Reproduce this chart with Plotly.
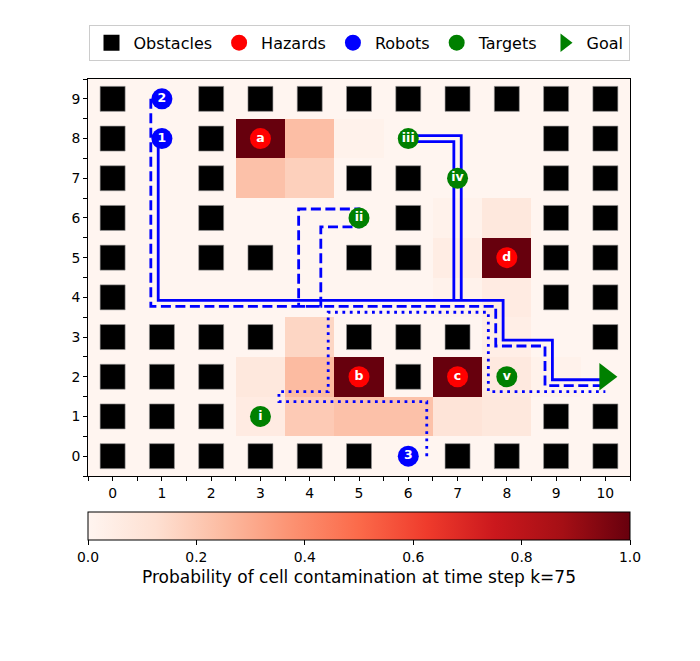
import plotly.graph_objects as go

# ---------------- data ----------------
n_cols = 11
n_rows = 10

# contamination probability per cell, rows listed from y=0 (bottom) to y=9 (top)
prob = [
    [0, 0, 0, 0, 0, 0, 0, 0, 0, 0, 0],                     # y=0
    [0, 0, 0, 0.06, 0.20, 0.23, 0.23, 0.10, 0.08, 0, 0],    # y=1
    [0, 0, 0, 0.08, 0.25, 1.0, 0, 1.0, 0.07, 0.02, 0],      # y=2
    [0, 0, 0, 0, 0.16, 0, 0, 0, 0.04, 0, 0],                # y=3
    [0, 0, 0, 0, 0, 0, 0, 0.02, 0.06, 0, 0],                # y=4
    [0, 0, 0, 0, 0, 0, 0, 0.05, 1.0, 0, 0],                 # y=5
    [0, 0, 0, 0, 0, 0, 0, 0.02, 0.08, 0, 0],                # y=6
    [0, 0, 0, 0.23, 0.18, 0, 0, 0, 0, 0, 0],                # y=7
    [0, 0, 0, 1.0, 0.24, 0.02, 0, 0, 0, 0, 0],              # y=8
    [0, 0, 0, 0, 0, 0, 0, 0, 0, 0, 0],                      # y=9
]

obstacle_x = [0, 2, 3, 4, 5, 6, 7, 8, 9, 10,
              0, 2, 9, 10,
              0, 2, 5, 6, 9, 10,
              0, 2, 6, 9, 10,
              0, 2, 3, 5, 6, 9, 10,
              0, 9, 10,
              0, 1, 2, 3, 5, 6, 7, 10,
              0, 1, 2, 6,
              0, 1, 2, 9, 10,
              0, 1, 2, 3, 4, 5, 7, 8, 9, 10]
obstacle_y = [9] * 10 + [8] * 4 + [7] * 6 + [6] * 5 + [5] * 7 + [4] * 3 + [3] * 8 + [2] * 4 + [1] * 5 + [0] * 10

hazard_x = [3, 5, 7, 8]
hazard_y = [8, 2, 2, 5]
hazard_lbl = ["a", "b", "c", "d"]

robot_x = [1, 1, 6]
robot_y = [8, 9, 0]
robot_lbl = ["1", "2", "3"]

target_x = [3, 5, 6, 7, 8]
target_y = [1, 6, 8, 7, 2]
target_lbl = ["i", "ii", "iii", "iv", "v"]

goal_x = [10]
goal_y = [2]

# robot paths as grid waypoints (turn points)
path1 = [(1, 8), (1, 4), (7, 4), (7, 8), (6, 8), (7, 8), (7, 4), (8, 4), (8, 3), (9, 3), (9, 2), (10, 2)]
path2 = [(1, 9), (1, 4), (4, 4), (4, 6), (5, 6), (4, 6), (4, 4), (8, 4), (8, 3), (9, 3), (9, 2), (10, 2)]
path3 = [(6, 0), (6, 1), (3, 1), (3, 2), (4, 2), (4, 4), (8, 4), (8, 2), (10, 2)]
paths = [path1, path2, path3]
path_offsets = [0.075, 0.225, 0.375]
path_dash = ["solid", "10px,4.5px", "2.8px,4.6px"]

cbar_ticks = [0.0, 0.2, 0.4, 0.6, 0.8, 1.0]

# ---------------- helpers ----------------
reds = [
    [0.0, "#fff5f0"], [0.125, "#fee0d2"], [0.25, "#fcbba1"], [0.375, "#fc9272"],
    [0.5, "#fb6a4a"], [0.625, "#ef3b2c"], [0.75, "#cb181d"], [0.875, "#a50f15"],
    [1.0, "#67000d"],
]


def offset_path(pts, o):
    def norm(a, b):
        dx, dy = b[0] - a[0], b[1] - a[1]
        L = (dx * dx + dy * dy) ** 0.5
        dx, dy = dx / L, dy / L
        return (dy, -dx)

    normals = [norm(pts[i], pts[i + 1]) for i in range(len(pts) - 1)]
    xs, ys = [], []
    n0 = normals[0]
    xs.append(pts[0][0] + o * n0[0]); ys.append(pts[0][1] + o * n0[1])
    for i in range(1, len(pts) - 1):
        a, b = normals[i - 1], normals[i]
        p = pts[i]
        if abs(a[0] + b[0]) < 1e-9 and abs(a[1] + b[1]) < 1e-9:
            xs.append(p[0] + o * a[0]); ys.append(p[1] + o * a[1])
            xs.append(p[0] + o * b[0]); ys.append(p[1] + o * b[1])
        elif a == b:
            xs.append(p[0] + o * a[0]); ys.append(p[1] + o * a[1])
        else:
            xs.append(p[0] + o * (a[0] + b[0])); ys.append(p[1] + o * (a[1] + b[1]))
    nl = normals[-1]
    xs.append(pts[-1][0] + o * nl[0]); ys.append(pts[-1][1] + o * nl[1])
    return xs, ys


FONT = "DejaVu Sans"
fig = go.Figure()

fig.add_trace(go.Heatmap(
    z=prob, x=list(range(n_cols)), y=list(range(n_rows)),
    colorscale=reds, zmin=0, zmax=1, hoverinfo="skip",
    colorbar=dict(
        orientation="h", x=0.5, xanchor="center", y=-0.0907, yanchor="top",
        len=1, lenmode="fraction", thickness=28, xpad=0, ypad=0,
        outlinewidth=1, outlinecolor="black",
        tickvals=cbar_ticks, ticktext=[f"{v:.1f}" for v in cbar_ticks],
        ticks="outside", ticklen=5, tickcolor="black",
        tickfont=dict(size=13.9, color="black", family=FONT),
        title=dict(text="Probability of cell contamination at time step k=75",
                   side="bottom", font=dict(size=17, color="black", family=FONT)),
    ),
    showlegend=False,
))

fig.add_trace(go.Scatter(
    x=obstacle_x, y=obstacle_y, mode="markers",
    marker=dict(symbol="square", size=25, color="black",
                line=dict(color="rgba(150,150,150,0.6)", width=1)),
    showlegend=False, hoverinfo="skip",
))

for pts, o, d in zip(paths, path_offsets, path_dash):
    xs, ys = offset_path(pts, o)
    fig.add_trace(go.Scatter(
        x=xs, y=ys, mode="lines",
        line=dict(color="blue", width=2.8, dash=d),
        showlegend=False, hoverinfo="skip",
    ))

txtfont = dict(color="white", size=12.5, family=FONT, weight="bold")
for xs, ys, lbls, col in [(hazard_x, hazard_y, hazard_lbl, "red"),
                          (robot_x, robot_y, robot_lbl, "blue"),
                          (target_x, target_y, target_lbl, "green")]:
    fig.add_trace(go.Scatter(
        x=xs, y=ys, mode="markers+text", text=lbls, textposition="middle center",
        textfont=txtfont,
        marker=dict(symbol="circle", size=21, color=col),
        showlegend=False, hoverinfo="skip",
    ))

fig.add_trace(go.Scatter(
    x=goal_x, y=goal_y, mode="markers",
    marker=dict(symbol="triangle-right", size=24, color="green"),
    showlegend=False, hoverinfo="skip",
))

# legend-only entries
for name, sym, col in [("Obstacles", "square", "black"), ("Hazards", "circle", "red"),
                       ("Robots", "circle", "blue"), ("Targets", "circle", "green"),
                       ("Goal", "triangle-right", "green")]:
    fig.add_trace(go.Scatter(
        x=[None], y=[None], mode="markers", name=name,
        marker=dict(symbol=sym, size=18, color=col),
    ))

axis_common = dict(
    showline=True, linecolor="black", linewidth=1, mirror=True,
    ticks="outside", ticklen=4, tickcolor="black", dtick=1, tick0=0,
    showgrid=False, zeroline=False, automargin=False,
    tickfont=dict(size=13.9, color="black", family=FONT),
    minor=dict(tick0=0.5, dtick=1, ticks="outside", ticklen=4, tickcolor="black",
               showgrid=True, gridcolor="rgba(60,60,60,0.8)", gridwidth=0.8,
               griddash="1px,2px"),
)

fig.update_layout(
    width=700, height=661,
    margin=dict(l=80, r=78, t=71, b=193),
    paper_bgcolor="white", plot_bgcolor="white",
    font=dict(family=FONT, color="black"),
    xaxis=dict(range=[-0.5, 10.5], **axis_common),
    yaxis=dict(range=[-0.5, 9.5], **axis_common),
    legend=dict(orientation="h", x=0.5, xanchor="center", y=1.046, yanchor="bottom",
                font=dict(size=16, family=FONT, color="black"),
                bordercolor="#cccccc", borderwidth=1, bgcolor="white",
                itemsizing="trace", itemwidth=34),
)

fig.write_html("out.html")
